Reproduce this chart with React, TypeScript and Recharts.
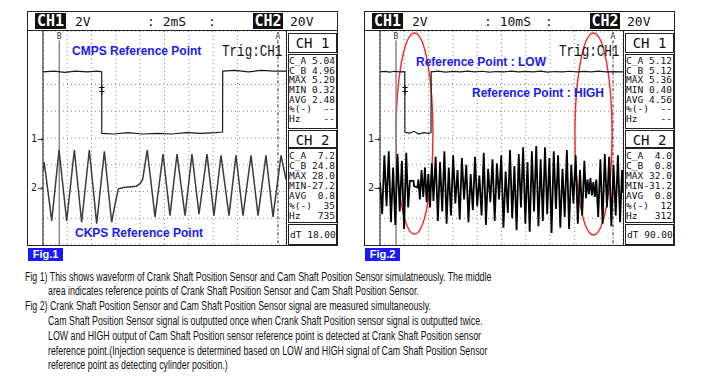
import React from "react";
import {
  LineChart,
  Line,
  XAxis,
  YAxis,
  CartesianGrid,
  ReferenceLine,
  ReferenceArea,
  ReferenceDot,
} from "recharts";

/* ================= DATA ================= */

type Pt = [number, number]; // [time mS, volts]

// Fig.1  (2mS/div)  CH1 = CMPS, CH2 = CKPS
const fig1Ticks = [0, 2, 4, 6, 8, 10, 12, 14, 16, 18, 20];

const fig1Cmps: Pt[] = [
  [0, 4.95], [0.9, 5.0], [1.8, 4.9], [2.7, 5.0], [3.6, 4.95], [4.5, 5.0], [4.83, 4.95],
  [4.84, 0.35], [5.8, 0.3], [7.0, 0.4], [8.2, 0.3], [9.4, 0.35], [10.6, 0.3], [11.8, 0.4],
  [13.0, 0.35], [14.2, 0.4], [14.78, 0.45],
  [14.79, 5.0], [15.8, 5.05], [16.9, 4.95], [18.0, 5.05], [19.0, 5.0], [20, 5.0],
];

const fig1Ckps: Pt[] = [
  [0, 12], [0.1, 19], [0.72, -25], [1.32, 28], [1.95, -25], [2.58, 28], [3.18, -26],
  [3.81, 28], [4.42, -27], [5.05, 27], [5.65, -26], [5.9, -14], [6.2, -1], [6.6, 0],
  [7.7, 1], [8.0, 3], [8.2, 6], [8.58, 28], [9.22, -22], [9.88, 25], [10.45, -21],
  [11.03, 25], [11.69, -21], [12.26, 25], [12.84, -20], [13.5, 25], [14.07, -21],
  [14.65, 24], [15.31, -21], [15.88, 24], [16.46, -21], [17.12, 24], [17.7, -21],
  [18.35, 24], [18.93, -22], [19.59, 24], [20, 6],
];

// Fig.2  (10mS/div)
const fig2Ticks = [0, 10, 20, 30, 40, 50, 60, 70, 80, 90, 100];

const fig2Cmps: Pt[] = [
  [0, 4.95], [2, 4.98], [4, 4.93], [6, 4.99], [8, 4.95], [10.2, 4.97],
  [10.25, 0.45], [12, 0.35], [14, 0.5], [16, 0.3], [18, 0.4], [20, 0.35], [21.0, 0.4],
  [21.05, 4.95], [24, 5.0], [27, 4.93], [30, 4.98], [33, 4.94], [36, 5.0], [39, 4.95],
  [42, 4.99], [45, 4.93], [48, 4.97], [51, 4.95], [54, 5.0], [57, 4.94], [60, 4.98],
  [63, 4.95], [66, 5.0], [69, 4.93], [72, 4.97], [75, 4.95], [78, 4.99], [81, 4.94],
  [84, 4.98], [87, 4.95], [90, 5.0], [93, 4.94], [96, 4.97], [100, 4.95],
];

const fig2Ckps: Pt[] = [
  [0, 4], [0.9, -20], [1.8, 24], [2.7, -14], [3.6, 27], [4.5, -26], [5.4, 15], [6.3, -28],
  [7.2, 25], [8.1, -18], [9.0, 20], [9.9, -31], [10.8, 26], [11.6, -15], [12.3, 5],
  [12.6, 5], [13.8, 5], [14.0, 1], [15.4, 0], [15.8, 6],
  [16.4, -9], [17.1, 13], [17.8, -7], [18.5, 15], [19.2, -11], [19.9, 10], [20.6, -15],
  [21.3, 18], [22.0, -10],
  [22.9, 23], [23.8, -25], [24.7, 19], [25.6, -18], [26.5, 27], [27.4, -27], [28.3, 15],
  [29.2, -21], [30.1, 24], [31.0, -12], [31.9, 13], [32.8, -24], [33.7, 22], [34.6, -9],
  [35.5, 17], [36.4, -26], [37.3, 10], [38.2, -17], [39.1, 23], [40.0, -14], [40.9, 9],
  [41.8, -21], [42.7, 26], [43.6, -28], [44.5, 14], [45.4, -11], [46.3, 21], [47.2, -25],
  [48.1, 18], [49.0, -9], [49.9, 24], [50.8, -30], [51.7, 12], [52.6, -19], [53.5, 28],
  [54.4, -23], [55.3, 16], [56.2, -32], [57.1, 25], [58.0, -15], [58.9, 30], [59.8, -27],
  [60.7, 19], [61.6, -33], [62.5, 27], [63.4, -18], [64.3, 31], [65.2, -29], [66.1, 21],
  [67.0, -25], [67.9, 30], [68.8, -20], [69.7, 22], [70.6, -34], [71.5, 27], [72.4, -16],
  [73.3, 24], [74.2, -30], [75.1, 14], [76.0, -22], [76.9, 28], [77.8, -31], [78.7, 17],
  [79.6, -12], [80.5, 24], [81.4, -27], [82.3, 13], [83.2, -21], [84.1, 20],
  [84.8, -8], [85.4, 6], [86.0, -5], [86.6, 7], [87.2, -6], [87.8, 4], [88.4, -7], [89.0, 6],
  [89.8, -22], [90.7, 21], [91.6, -27], [92.5, 25], [93.4, -15], [94.3, 23], [95.2, -29],
  [96.1, 17], [97.0, -21], [97.9, 24], [98.8, -26], [99.6, 13], [100, -4],
];

// red marks on Fig.2: [t1, t2, v1, v2] in CH1 volts
const fig2Ellipses = [
  [6.6, 21.8, -7.18, 7.85],
  [80.2, 95.5, -7.25, 7.85],
];

const ch1Ticks = [-8, -6, -4, -2, 0, 2, 4, 6, 8];

// side panel readouts
const fig1Ch1 = [["C_A", "5.04"], ["C_B", "4.96"], ["MAX", "5.20"], ["MIN", "0.32"], ["AVG", "2.48"], ["%(-)", "--"], ["Hz", "--"]];
const fig1Ch2 = [["C_A", "7.2"], ["C_B", "24.8"], ["MAX", "28.0"], ["MIN", "-27.2"], ["AVG", "0.8"], ["%(-)", "35"], ["Hz", "735"]];
const fig2Ch1 = [["C_A", "5.12"], ["C_B", "5.12"], ["MAX", "5.36"], ["MIN", "0.40"], ["AVG", "4.56"], ["%(-)", "--"], ["Hz", "--"]];
const fig2Ch2 = [["C_A", "4.0"], ["C_B", "0.8"], ["MAX", "32.0"], ["MIN", "-31.2"], ["AVG", "0.8"], ["%(-)", "12"], ["Hz", "312"]];

const captionLines = [
  "Fig 1) This shows waveform of Crank Shaft Position Sensor and Cam Shaft Position Sensor simulatneously. The middle",
  "area indicates reference points of Crank Shaft Position Sensor and Cam Shaft Position Sensor.",
  "Fig 2) Crank Shaft Position Sensor and Cam Shaft Position Sensor signal are measured simultaneously.",
  "Cam Shaft Position Sensor signal is outputted once when Crank Shaft Position sensor signal is outputted twice.",
  "LOW and HIGH output of Cam Shaft Position sensor reference point is detected at Crank Shaft Position sensor",
  "reference point.(Injection sequence is determined based on LOW and HIGH signal of Cam Shaft Position Sensor",
  "reference point as detecting cylinder position.)",
];

/* ================= HELPERS ================= */

const MONO = "'DejaVu Sans Mono', monospace";
const BLUE = "#1a1aff";

const toPts = (arr: Pt[]) => arr.map(([t, v]) => ({ t, v }));

const EllipseShape = (p: any) => (
  <ellipse
    cx={p.x + p.width / 2}
    cy={p.y + p.height / 2}
    rx={p.width / 2}
    ry={p.height / 2}
    fill="none"
    stroke="#ff2020"
    strokeWidth={1.4}
  />
);

const TrigMark = (p: any) => (
  <text x={p.cx} y={p.cy} textAnchor="middle" fontSize={12} fontFamily="DejaVu Sans" fill="#111">
    ‡
  </text>
);

function Readout({ rows, top, height, lh, pad }: { rows: string[][]; top: number; height: number; lh: number; pad: number }) {
  return (
    <div style={{ ...styles.box, top, height, paddingTop: pad }}>
      {rows.map(([k, v]) => (
        <div key={k} style={{ display: "flex", justifyContent: "space-between", height: lh, lineHeight: `${lh}px`, fontSize: 9.5, fontFamily: MONO, padding: "0 1px 0 0", whiteSpace: "pre" }}>
          <span>{k}</span>
          <span>{v}</span>
        </div>
      ))}
    </div>
  );
}

/* ================= SCOPE ================= */

type ScopeProps = {
  left: number;
  timebase: string;
  xMax: number;
  xTicks: number[];
  cmps: Pt[];
  ckps: Pt[];
  ckpsStroke: string;
  ckpsWidth: number;
  trig: number;
  cursorB: number;
  cursorA: number;
  ch1: string[][];
  ch2: string[][];
  dT: string;
  ellipses?: number[][];
};

function Scope(p: ScopeProps) {
  return (
    <div style={{ position: "absolute", left: p.left, top: 12, width: 309, height: 233, outline: "1px solid #222" }}>
      {/* header */}
      <div style={{ position: "absolute", left: 0, top: 0, width: 309, height: 19, borderBottom: "1px solid #222", boxSizing: "border-box", fontFamily: MONO, fontSize: 13, color: "#111" }}>
        <div style={{ ...styles.chip, left: 7, width: 31 }}>CH1</div>
        <div style={{ ...styles.hdr, left: 47 }}>2V</div>
        <div style={{ ...styles.hdr, left: 119 }}>{`: ${p.timebase}`}</div>
        <div style={{ ...styles.hdr, left: 180 }}>:</div>
        <div style={{ ...styles.chip, left: 225, width: 30 }}>CH2</div>
        <div style={{ ...styles.hdr, left: 262 }}>20V</div>
      </div>

      {/* traces */}
      <div style={{ position: "absolute", left: 0, top: 19 }}>
        <LineChart width={258} height={214} margin={{ top: 0, right: 0, bottom: 0, left: 15 }}>
          <XAxis type="number" dataKey="t" domain={[0, p.xMax]} ticks={p.xTicks} hide allowDataOverflow />
          <YAxis yAxisId="ch1" type="number" domain={[-8, 8]} ticks={ch1Ticks} hide allowDataOverflow />
          <YAxis yAxisId="ch2" type="number" domain={[-43, 117]} hide allowDataOverflow />
          <CartesianGrid yAxisId="ch1" stroke="#8c8c8c" strokeDasharray="1 3" />
          <ReferenceLine x={0} yAxisId="ch1" stroke="#111" strokeWidth={1} ifOverflow="visible" />
          <ReferenceLine
            y={0}
            yAxisId="ch1"
            stroke="none"
            label={{ value: "1→", position: "left", offset: 0, fontSize: 10, fill: "#222", fontFamily: MONO }}
          />
          <ReferenceLine
            y={0}
            yAxisId="ch2"
            stroke="none"
            label={{ value: "2→", position: "left", offset: 0, fontSize: 10, fill: "#222", fontFamily: MONO }}
          />
          <ReferenceLine
            yAxisId="ch1"
            segment={[{ x: p.cursorB, y: 7.3 }, { x: p.cursorB, y: -8 }]}
            stroke="#8a8a8a"
            strokeWidth={1.5}
            label={{ value: "B", position: "top", offset: 1, fontSize: 8, fill: "#333", fontFamily: MONO }}
          />
          <ReferenceLine
            yAxisId="ch1"
            segment={[{ x: p.cursorA, y: 7.3 }, { x: p.cursorA, y: -8 }]}
            stroke="#222"
            strokeDasharray="3 2 1 2"
            label={{ value: "A", position: "top", offset: 1, fontSize: 8, fill: "#333", fontFamily: MONO }}
          />
          <Line
            yAxisId="ch2"
            data={toPts(p.ckps)}
            dataKey="v"
            type="linear"
            stroke={p.ckpsStroke}
            strokeWidth={p.ckpsWidth}
            dot={false}
            isAnimationActive={false}
          />
          <Line
            yAxisId="ch1"
            data={toPts(p.cmps)}
            dataKey="v"
            type="linear"
            stroke="#1a1a1a"
            strokeWidth={1.2}
            dot={false}
            isAnimationActive={false}
          />
          <ReferenceDot x={p.trig} y={3.3} yAxisId="ch1" r={0} shape={TrigMark} ifOverflow="visible" />
          {(p.ellipses || []).map(([t1, t2, v1, v2], i) => (
            <ReferenceArea key={i} yAxisId="ch1" x1={t1} x2={t2} y1={v1} y2={v2} shape={EllipseShape} ifOverflow="visible" />
          ))}
        </LineChart>
      </div>

      {/* side panel */}
      <div style={{ position: "absolute", left: 258, top: 19, width: 51, height: 214, borderLeft: "1px solid #222", boxSizing: "border-box", color: "#111" }}>
        <div style={{ ...styles.box, ...styles.title, top: 2, height: 20 }}>CH 1</div>
        <Readout rows={p.ch1} top={23} height={75} lh={9.7} pad={1} />
        <div style={{ ...styles.box, ...styles.title, top: 99, height: 18 }}>CH 2</div>
        <Readout rows={p.ch2} top={117} height={75} lh={10} pad={2} />
        <div style={{ ...styles.box, top: 193, height: 21, fontFamily: MONO, fontSize: 9.5, lineHeight: "19px", paddingLeft: 1, whiteSpace: "pre" }}>{`dT ${p.dT}`}</div>
      </div>

      <div style={{ position: "absolute", left: 194, top: 31, fontFamily: "'Liberation Mono', monospace", fontSize: 17, lineHeight: "18px", transform: "scaleX(0.74)", transformOrigin: "0 50%", color: "#111", whiteSpace: "nowrap" }}>
        Trig:CH1
      </div>
    </div>
  );
}

/* ================= APP ================= */

export default function App() {
  return (
    <div style={{ position: "absolute", left: 0, top: 0, width: 701, height: 377, background: "#fff", fontFamily: "'Liberation Sans', Arial, sans-serif", overflow: "hidden" }}>
      <Scope
        left={28}
        timebase="2mS"
        xMax={20}
        xTicks={fig1Ticks}
        cmps={fig1Cmps}
        ckps={fig1Ckps}
        ckpsStroke="#3c3c3c"
        ckpsWidth={1.5}
        trig={4.83}
        cursorB={1.34}
        cursorA={19.34}
        ch1={fig1Ch1}
        ch2={fig1Ch2}
        dT="18.00"
      />
      <Scope
        left={365}
        timebase="10mS"
        xMax={100}
        xTicks={fig2Ticks}
        cmps={fig2Cmps}
        ckps={fig2Ckps}
        ckpsStroke="#000"
        ckpsWidth={1.8}
        trig={10.25}
        cursorB={6.6}
        cursorA={95.9}
        ch1={fig2Ch1}
        ch2={fig2Ch2}
        dT="90.00"
        ellipses={fig2Ellipses}
      />

      {/* annotations */}
      <div style={{ ...styles.note, left: 72, top: 44 }}>CMPS Reference Point</div>
      <div style={{ ...styles.note, left: 75, top: 226 }}>CKPS Reference Point</div>
      <div style={{ ...styles.note, left: 416, top: 55 }}>Reference Point : LOW</div>
      <div style={{ ...styles.note, left: 472, top: 86 }}>Reference Point : HIGH</div>

      <div style={{ ...styles.fig, left: 28 }}>Fig.1</div>
      <div style={{ ...styles.fig, left: 365 }}>Fig.2</div>

      {captionLines.map((line, i) => (
        <div
          key={i}
          style={{
            ...styles.caption,
            left: i === 0 || i === 2 ? 25 : 48,
            top: [270, 284, 299, 314, 329, 344, 358][i],
          }}
        >
          {line}
        </div>
      ))}
    </div>
  );
}

/* ================= STYLES ================= */

const styles: Record<string, React.CSSProperties> = {
  chip: {
    position: "absolute",
    top: 1,
    height: 16,
    background: "#111",
    color: "#fff",
    fontFamily: MONO,
    fontWeight: "bold",
    fontSize: 15,
    lineHeight: "16px",
    textAlign: "center",
  },
  hdr: {
    position: "absolute",
    top: 1,
    lineHeight: "17px",
    whiteSpace: "pre",
  },
  box: {
    position: "absolute",
    left: 1,
    width: 49,
    border: "1px solid #222",
    boxSizing: "border-box",
    background: "#fff",
  },
  title: {
    fontFamily: MONO,
    fontSize: 14,
    textAlign: "center",
    lineHeight: "18px",
  },
  note: {
    position: "absolute",
    color: BLUE,
    fontWeight: "bold",
    fontSize: 12,
    lineHeight: "14px",
    whiteSpace: "nowrap",
  },
  fig: {
    position: "absolute",
    top: 248,
    width: 35,
    height: 13,
    background: BLUE,
    color: "#fff",
    fontWeight: "bold",
    fontSize: 11,
    lineHeight: "13px",
    textAlign: "center",
  },
  caption: {
    position: "absolute",
    fontSize: 12.5,
    lineHeight: "14px",
    color: "#111",
    whiteSpace: "nowrap",
    transform: "scaleX(0.705)",
    transformOrigin: "0 50%",
  },
};
